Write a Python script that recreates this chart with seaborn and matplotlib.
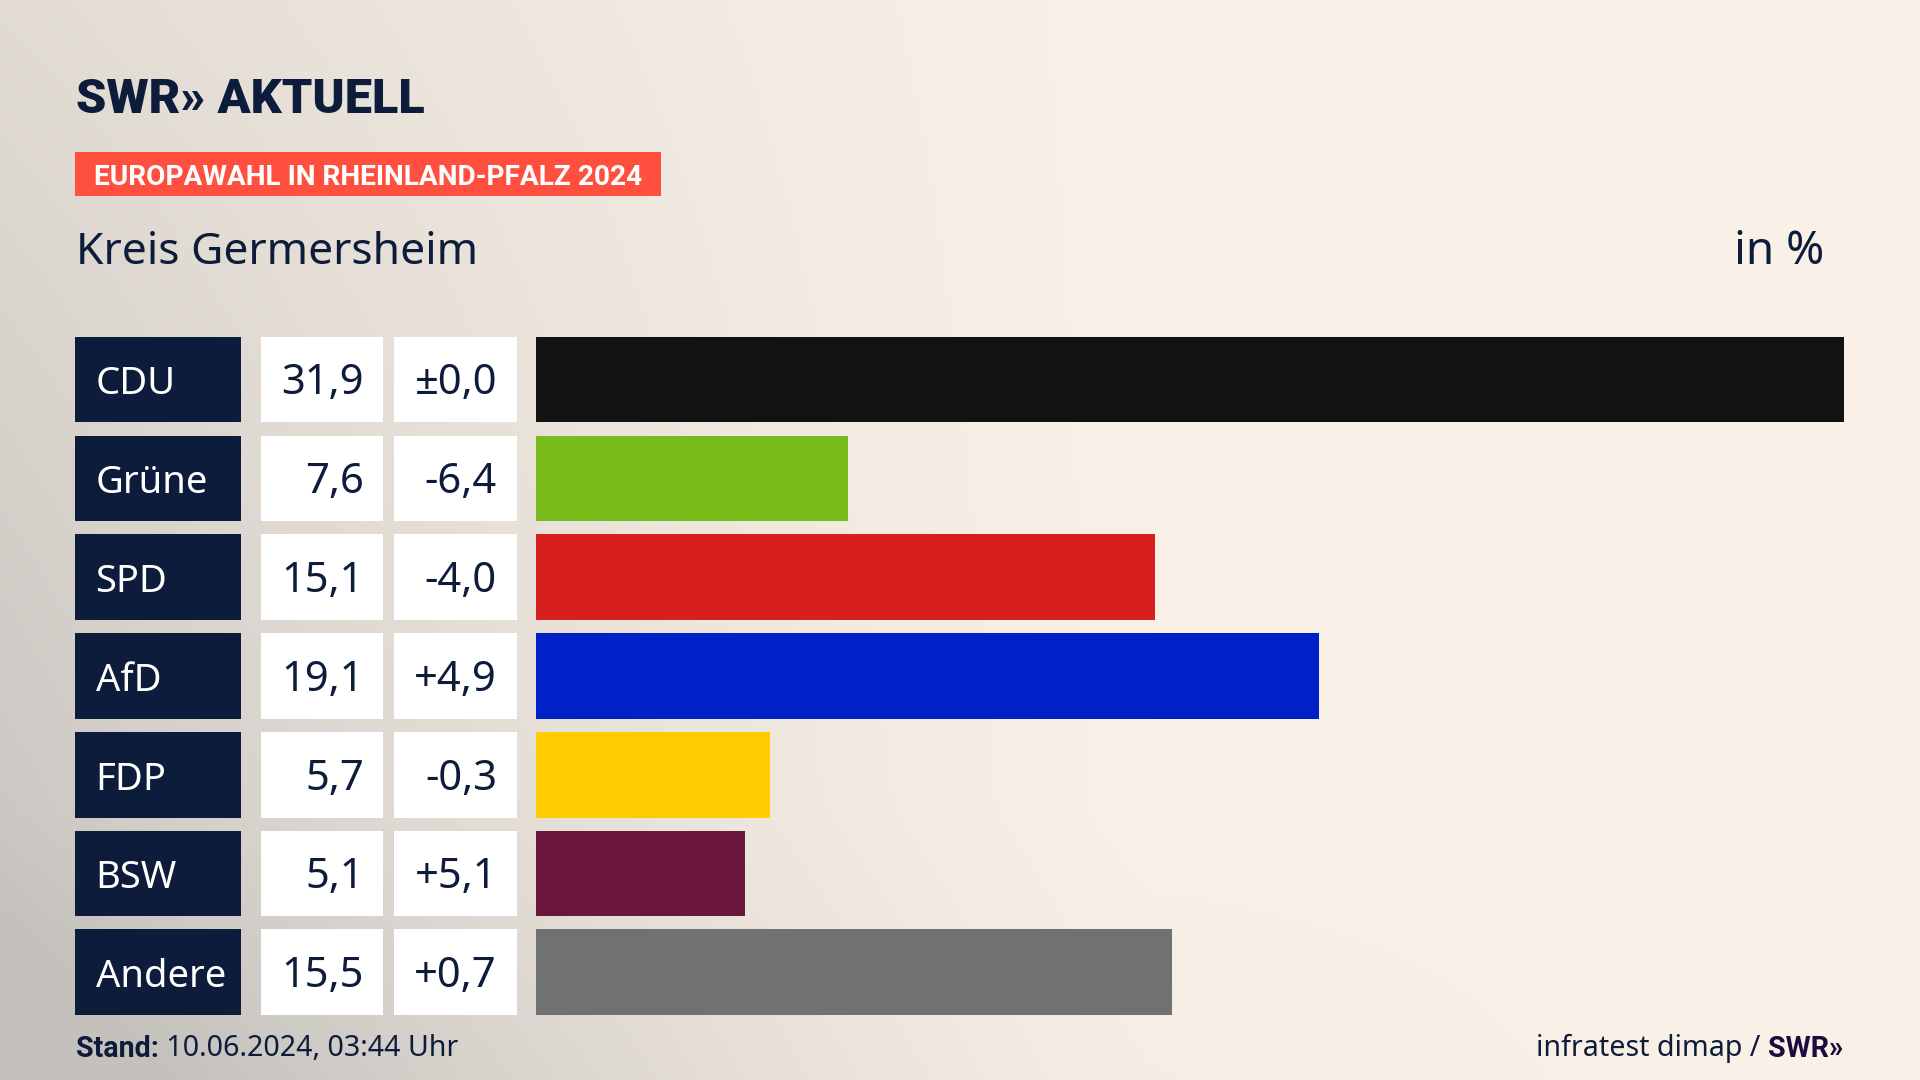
import numpy as np
import pandas as pd
import matplotlib
matplotlib.use("Agg")
import matplotlib.pyplot as plt
import seaborn as sns
from matplotlib.patches import Rectangle
from matplotlib.transforms import blended_transform_factory

# Daten: Europawahl 2024, Kreis Germersheim
parteien = ["CDU", "Grüne", "SPD", "AfD", "FDP", "BSW", "Andere"]
anteile = [31.9, 7.6, 15.1, 19.1, 5.7, 5.1, 15.5]
veraenderung = ["±0,0", "-6,4", "-4,0", "+4,9", "-0,3", "+5,1", "+0,7"]
farben = ["#121212", "#78bc1b", "#d71f1d", "#0021c8", "#ffcc00", "#6a173b", "#707173"]

df = pd.DataFrame({"partei": parteien, "anteil": anteile})

W, H = 1920, 1080
NAVY = "#0c1c3a"
BOLD = ["Roboto", "DejaVu Sans"]


def fx(px):
    return px / W


def fy(py):
    return 1 - py / H


sns.set_theme(style="white")
plt.rcParams["font.family"] = ["Noto Sans", "DejaVu Sans"]

fig = plt.figure(figsize=(19.2, 10.8), dpi=100)

# hintergrund: beige mit grauem verlauf nach links unten
bg = fig.add_axes([0, 0, 1, 1], zorder=-10)
yy, xx = np.mgrid[0:1:270j, 0:1:480j]
t = np.clip(1 - xx / 0.6, 0, 1) ** 1.3 * (0.45 + 0.55 * yy)
t = t + np.clip(yy - 0.75, 0, 1) * 0.8 * np.clip(1 - xx / 0.9, 0, 1)
t = np.clip(t, 0, 1)
beige = np.array([249, 241, 231]) / 255
grau = np.array([196, 193, 189]) / 255
bg.imshow(beige * (1 - t[..., None]) + grau * t[..., None],
          extent=[0, 1, 0, 1], aspect="auto", origin="upper")
bg.axis("off")

# balken
x0, x1 = 536.3, 1844.1
ytop, ybot = 330.15, 1021.65
ax = fig.add_axes([fx(x0), fy(ybot), fx(x1 - x0), (ybot - ytop) / H])
sns.barplot(data=df, x="anteil", y="partei", hue="partei", palette=farben,
            legend=False, width=0.867, saturation=1, orient="h", linewidth=0, ax=ax)
ax.set_xlim(0, max(anteile))
ax.set_ylim(len(parteien) - 0.5, -0.5)
ax.axis("off")

trans = blended_transform_factory(fig.transFigure, ax.transData)
bh = 0.867
for i, (p, a, d) in enumerate(zip(parteien, anteile, veraenderung)):
    ax.add_patch(Rectangle((fx(74.7), i - bh / 2), fx(241.2 - 74.7), bh,
                           transform=trans, color=NAVY, clip_on=False, lw=0))
    ax.add_patch(Rectangle((fx(260.8), i - bh / 2), fx(383.3 - 260.8), bh,
                           transform=trans, color="white", clip_on=False, lw=0))
    ax.add_patch(Rectangle((fx(394.3), i - bh / 2), fx(516.7 - 394.3), bh,
                           transform=trans, color="white", clip_on=False, lw=0))
    yb = i + 0.15
    ax.text(fx(95.5), yb, p, transform=trans, color="white", fontsize=27.5,
            va="baseline", ha="left")
    ax.text(fx(363.7), yb, f"{a:.1f}".replace(".", ","), transform=trans,
            color=NAVY, fontsize=30, va="baseline", ha="right")
    ax.text(fx(497), yb, d, transform=trans, color=NAVY, fontsize=30,
            va="baseline", ha="right")

# kopf
fig.text(fx(76), fy(113), "SWR» AKTUELL", color=NAVY, fontsize=35,
         fontweight="black", family=BOLD, va="baseline")
fig.patches.append(Rectangle((fx(74.7), fy(196)), fx(661 - 74.7), (196 - 151.8) / H,
                             transform=fig.transFigure, color="#ff4f3f", lw=0))
fig.text(fx(94), fy(185), "EUROPAWAHL IN RHEINLAND-PFALZ 2024", color="white",
         fontsize=20.2, fontweight="bold", family=BOLD, va="baseline")
fig.text(fx(76), fy(264.5), "Kreis Germersheim", color=NAVY, fontsize=32,
         va="baseline")
fig.text(fx(1824.5), fy(264.5), "in %", color=NAVY, fontsize=33,
         va="baseline", ha="right")

# fuss
st = fig.text(fx(76), fy(1057), "Stand:", color=NAVY, fontsize=20.6,
              fontweight="bold", family=BOLD, va="baseline")
ax.annotate(" 10.06.2024, 03:44 Uhr", xy=(1, 0), xycoords=st,
            color=NAVY, fontsize=20.6, va="bottom", annotation_clip=False)
sw = fig.text(fx(1843), fy(1057), "SWR»", color="#1e0a3c", fontsize=20.6,
              fontweight="bold", family=BOLD, va="baseline", ha="right")
ax.annotate("infratest dimap / ", xy=(0, 0), xycoords=sw,
            color=NAVY, fontsize=20.6, va="bottom", ha="right", annotation_clip=False)

fig.savefig("out.png", dpi=100)
